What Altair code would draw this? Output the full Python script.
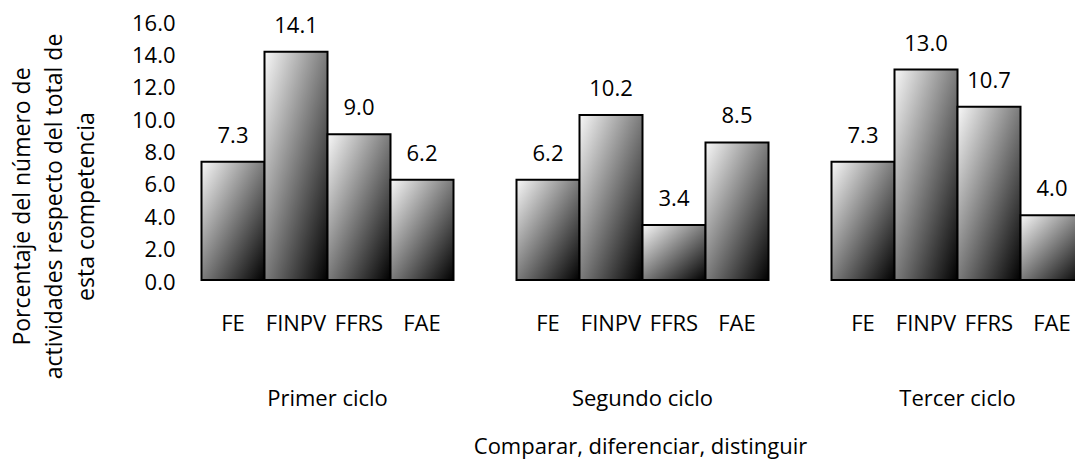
import altair as alt
import pandas as pd

# Percentage of activities per cycle and indicator
ciclos = ["Primer ciclo", "Segundo ciclo", "Tercer ciclo"]
indicadores = ["FE", "FINPV", "FFRS", "FAE"]
primer = [7.3, 14.1, 9.0, 6.2]
segundo = [6.2, 10.2, 3.4, 8.5]
tercer = [7.3, 13.0, 10.7, 4.0]
y_ticks = [0, 2, 4, 6, 8, 10, 12, 14, 16]

rows = []
for ciclo, vals in zip(ciclos, [primer, segundo, tercer]):
    for ind, v in zip(indicadores, vals):
        rows.append({"ciclo": ciclo, "indicador": ind, "valor": v})
df = pd.DataFrame(rows)

FONT = "Open Sans"
FS = 22

x_enc = alt.X(
    "ciclo:N",
    sort=ciclos,
    scale=alt.Scale(range=[0, 945], paddingInner=0.2, paddingOuter=0.1),
    axis=alt.Axis(
        title="Comparar, diferenciar, distinguir",
        labelAngle=0,
        labelBaseline="middle",
        labelPadding=115,
        ticks=False,
        domain=False,
        titleX=470,
        titleY=163,
        titleBaseline="middle",
        titleAlign="center",
        titleAnchor="start",
    ),
)
xoff_enc = alt.XOffset(
    "indicador:N",
    sort=indicadores,
    scale=alt.Scale(paddingInner=0, paddingOuter=0),
)
y_enc = alt.Y(
    "valor:Q",
    scale=alt.Scale(domain=[0, 16], range=[259, 0]),
    axis=alt.Axis(
        values=y_ticks,
        format=".1f",
        grid=False,
        ticks=False,
        domain=False,
        labelOverlap=False,
        labelPadding=-5,
        labelOffset=2,
        title=[
            "Porcentaje del número de",
            "actividades respecto del total de",
            "esta competencia",
        ],
        titleAngle=-90,
        titleX=-148,
        titleY=185,
        titleAlign="center",
        titleBaseline="middle",
        titleFontSize=23,
        titleLineHeight=32,
    ),
)

gradient = alt.LinearGradient(
    gradient="linear",
    x1=0, y1=0, x2=1, y2=1,
    stops=[
        alt.GradientStop(offset=0, color="#f8f8f8"),
        alt.GradientStop(offset=1, color="#000000"),
    ],
)

base = alt.Chart(df).encode(x=x_enc, xOffset=xoff_enc, y=y_enc)

bars = base.mark_bar(
    color=gradient, stroke="#000000", strokeWidth=2, clip=True
)

values = base.mark_text(
    font=FONT, fontSize=FS, baseline="alphabetic", dy=-19, color="#000000"
).encode(text=alt.Text("valor:Q", format=".1f"))

cat_labels = base.mark_text(
    font=FONT, fontSize=FS, baseline="middle", color="#000000"
).encode(y=alt.value(303), text="indicador:N")

chart = (
    alt.layer(bars, values, cat_labels)
    .properties(
        width=905,
        height=262,
        autosize=alt.AutoSizeParams(type="none"),
        padding={"left": 170, "top": 21, "right": 0, "bottom": 178},
    )
    .configure_view(stroke=None)
    .configure_axis(
        labelFont=FONT,
        labelFontSize=FS,
        labelColor="#000000",
        labelOverlap=False,
        titleFont=FONT,
        titleFontSize=FS,
        titleColor="#000000",
        titleFontWeight="normal",
    )
)

chart.save("out.html", embed_options={"renderer": "svg", "actions": False})
